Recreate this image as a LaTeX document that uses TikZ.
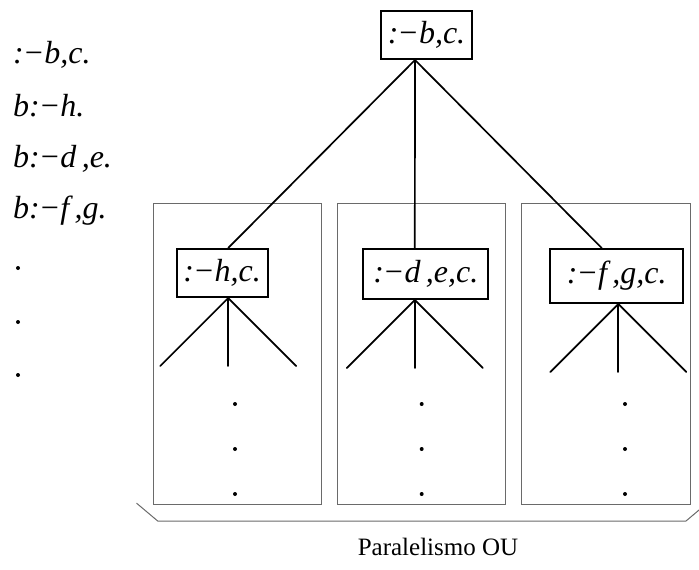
\documentclass[tikz,border=0pt]{standalone}
\usepackage{fontspec}
\setmainfont{Liberation Serif}
\usepackage{tikz}
\usetikzlibrary{calc,positioning}
\definecolor{framegray}{HTML}{6A6A6A}

\begin{document}
\begin{tikzpicture}[x=1pt, y=-1pt, line cap=round,
    clause/.style={anchor=base west, inner sep=0pt,
                   font=\fontsize{32}{34}\selectfont\itshape},
    goal/.style={draw, line width=2pt, inner sep=0pt, minimum height=48pt,
                 font=\fontsize{32}{34}\selectfont\itshape},
    frame/.style={draw=framegray, line width=1pt},
    arc/.style={line width=1.7pt}]
  \useasboundingbox (0,0) rectangle (699,570);
  % program on the left
  \foreach \y/\t [count=\i] in {63/{:\kern-1pt−b,c.}, 116/{b:\kern-1pt−h.}, 167/{b:\kern-1pt−d\,,e.}, 218/{b:\kern-1pt−f\,,g.}}
    \node[clause] (cl\i) at (13,\y) {\t};
  \foreach \y in {268,322,375}
    \fill (18,\y) circle (2pt);
  % one frame per alternative
  \foreach \x in {153.3,337.3,521.7}
    \draw[frame] (\x,203) rectangle ++(168.4,301.3);
  \draw[frame] (136.7,503.3) -- (157.7,521) -- (686,521) -- (707,503.3);
  \node[font=\fontsize{25}{27}\selectfont, anchor=base] (caption) at (438,555)
        {Paralelismo OU};
  % goals
  \node[goal, minimum width=91pt] (root) at (426.5,35) {:\kern-1pt−b,c.};
  \node[goal, minimum width=91pt] (lc) at (222.2,273) {:\kern-1pt−h,c.};
  \node[goal, minimum width=125pt, minimum height=50pt] (mc) at (425.8,274) {:\kern-1pt−d\,,e,c.};
  \node[goal, minimum width=133pt, minimum height=54pt] (rc) at (616.7,276) {:\kern-1pt−f\,,g,c.};
  \coordinate (root-out) at ([xshift=-11.5pt]root.south);
  \coordinate (lc-in) at ([xshift=6pt]lc.north);
  \coordinate (mc-in) at ([xshift=-11pt]mc.north);
  \coordinate (rc-in) at ([xshift=-15pt]rc.north);
  \coordinate (lc-out) at ([xshift=6pt]lc.south);
  \coordinate (mc-out) at ([xshift=-11pt]mc.south);
  \coordinate (rc-out) at ([xshift=1.6pt]rc.south);
  \foreach \n in {lc,mc,rc}
    \draw[arc] (root-out) -- (\n-in);
  \foreach \n in {lc,mc,rc}
    \foreach \dx in {-68,0,68}
      \draw[arc] (\n-out) -- ($(\n-out)+(\dx,68)$);
  % the rest of each branch
  \foreach \x in {235,421.7,625}
    \foreach \y in {404,449,494}
      \fill (\x,\y) circle (2pt);
\end{tikzpicture}
\end{document}
